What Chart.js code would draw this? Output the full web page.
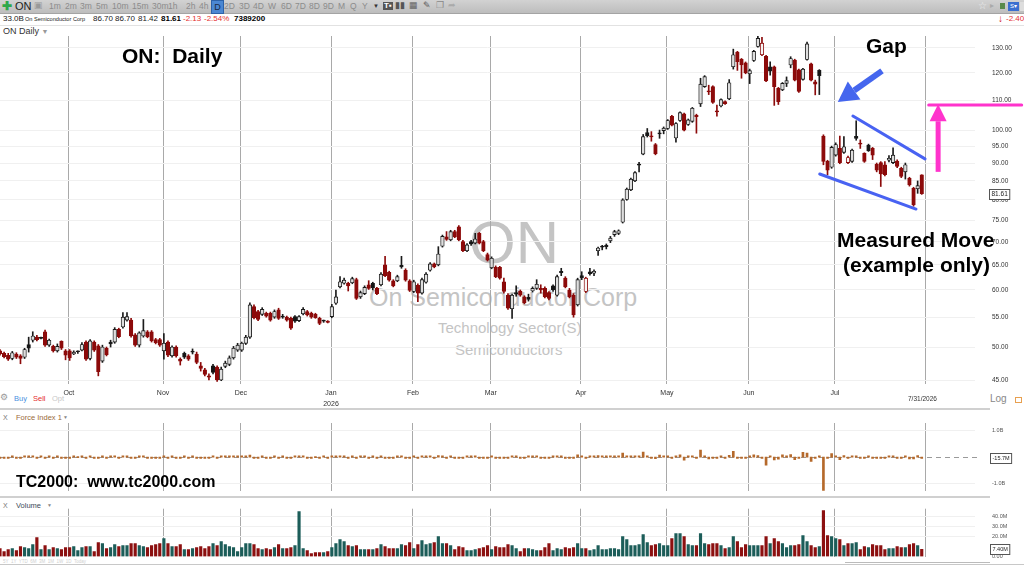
<!DOCTYPE html>
<html>
<head>
<meta charset="utf-8">
<title>ON Daily</title>
<script src="https://cdn.jsdelivr.net/npm/chart.js@4.4.1/dist/chart.umd.min.js"></script>
<style>
  body { margin:0; width:1024px; height:566px; overflow:hidden; background:#fff; position:relative; font-family:"Liberation Sans",Arial,sans-serif; }
  .t { position:absolute; white-space:nowrap; line-height:1; }
  canvas { position:absolute; left:0; z-index:2; }
  #toolbar { position:absolute; left:0; top:0; width:1024px; height:13px; background:linear-gradient(#d2d2d2,#bdbdbd); border-bottom:1px solid #a4a4a4; }
  .tf { position:absolute; top:2px; font-size:8.5px; color:#8c8c8c; line-height:1; }
  .big { font-weight:bold; color:#000; z-index:5; }
  .wm { color:#c4c4c4; z-index:1; }
  .sep { position:absolute; left:0; background:#d0d0d0; }
</style>
</head>
<body>

<div id="toolbar"></div>

<!-- quote line -->
<span class="t" style="left:3px;top:15px;font-size:8px;color:#222">33.0B</span>
<span class="t" style="left:25px;top:16.5px;font-size:5.6px;color:#222">On Semiconductor Corp</span>
<span class="t" style="left:93px;top:15px;font-size:8px;color:#222">86.70</span>
<span class="t" style="left:115px;top:15px;font-size:8px;color:#222">86.70</span>
<span class="t" style="left:138px;top:15px;font-size:8px;color:#222">81.42</span>
<span class="t" style="left:161px;top:15px;font-size:8px;color:#000;font-weight:bold">81.61</span>
<span class="t" style="left:183px;top:15px;font-size:8px;color:#e53030">-2.13</span>
<span class="t" style="left:204px;top:15px;font-size:8px;color:#e53030">-2.54%</span>
<span class="t" style="left:234px;top:15px;font-size:8px;color:#000;font-weight:bold">7389200</span>
<span class="t" style="left:998px;top:14px;font-size:10px;color:#d01010;font-weight:bold">↓</span>
<span class="t" style="left:1006px;top:15px;font-size:8px;color:#e53030">-2.40</span>
<div class="sep" style="top:25px;width:1024px;height:1px;background:#e2e2e2"></div>
<span class="t" style="left:3px;top:27px;font-size:9px;color:#333">ON Daily <span style="color:#999;font-size:7px">▼</span></span>

<!-- watermark -->
<span class="t wm" style="left:469px;top:213px;font-size:60px">ON</span>
<span class="t wm" style="left:369px;top:285px;font-size:25px">On Semiconductor Corp</span>
<span class="t wm" style="left:438px;top:320px;font-size:15px">Technology Sector(S)</span>
<span class="t wm" style="left:455px;top:342px;font-size:15px">Semiconductors</span>

<canvas id="main" width="1024" height="384" style="top:26px"></canvas>
<canvas id="force" width="1024" height="86" style="top:410px"></canvas>
<canvas id="volume" width="1024" height="67" style="top:497px"></canvas>

<!-- bottom of price pane -->
<span class="t" style="left:0px;top:393px;font-size:9px;color:#999">⚙</span>
<span class="t" style="left:14px;top:395px;font-size:7.5px;color:#4a8fe0">Buy</span>
<span class="t" style="left:33px;top:395px;font-size:7.5px;color:#e53030">Sell</span>
<span class="t" style="left:52px;top:395px;font-size:7.5px;color:#c8c8c8">Opt</span>
<span class="t" style="left:908px;top:396px;font-size:6.5px;color:#333;z-index:3">7/31/2026</span>
<span class="t" style="left:990px;top:394px;font-size:10px;color:#888">Log</span>
<div class="sep" style="left:1015px;top:397px;width:5px;height:4px;background:none;border:1px solid #e8a050"></div>
<div class="sep" style="top:408px;width:990px;height:2px"></div>

<!-- force index header -->
<span class="t" style="left:3px;top:414px;font-size:7px;color:#777">X</span>
<span class="t" style="left:16px;top:414px;font-size:7.5px;color:#9a6a3a">Force Index 1</span>
<span class="t" style="left:63px;top:415px;font-size:5px;color:#888">▼</span>
<div class="sep" style="top:496px;width:990px;height:2px"></div>

<!-- volume header -->
<span class="t" style="left:3px;top:502px;font-size:7px;color:#777">X</span>
<span class="t" style="left:16px;top:502px;font-size:7.5px;color:#3d4a5a">Volume</span>
<span class="t" style="left:47px;top:503px;font-size:5px;color:#888">▼</span>
<span class="t" style="left:3px;top:560px;font-size:4.5px;color:#cfcfcf">5Y &nbsp;1Y &nbsp;YTD &nbsp;6M &nbsp;3M &nbsp;1M &nbsp;1W &nbsp;1D &nbsp;Today</span>
<div class="sep" style="top:564px;width:1024px;height:1px;background:#c8c8c8"></div>
<div class="sep" style="left:845px;top:562px;width:145px;height:1px;background:#bbb"></div>

<!-- hand drawn notes -->
<span class="t big" style="left:122px;top:45px;font-size:21px">ON:&nbsp; Daily</span>
<span class="t big" style="left:866px;top:35px;font-size:21px">Gap</span>
<span class="t big" style="left:837px;top:229px;font-size:21px">Measured Move</span>
<span class="t big" style="left:843px;top:254px;font-size:21px">(example only)</span>
<span class="t big" style="left:16px;top:474px;font-size:16px">TC2000:&nbsp; www.tc2000.com</span>

<script>
// Daily bars, Sep 2025 - 7/31/2026 (index 0 = first visible bar)
const opens = [
  49.4,49.0,48.7,48.2,48.9,48.6,48.4,50.4,51.1,51.6,
  51.5,52.5,50.3,50.1,49.4,50.9,49.4,49.4,48.9,49.3,
  49.5,50.8,48.2,50.8,50.2,47.8,49.8,50.8,50.8,52.9,
  53.3,54.5,54.5,52.0,50.3,51.8,52.5,52.5,51.2,51.2,
  49.4,50.8,48.6,50.0,48.1,49.0,48.6,49.3,48.9,47.1,
  46.5,45.6,47.1,46.9,45.0,47.0,47.3,48.3,49.5,49.5,
  50.6,51.6,56.9,56.0,55.5,55.7,55.7,55.0,56.3,55.2,
  55.0,54.8,55.1,54.4,55.6,56.0,55.7,55.5,54.8,54.4,
  54.3,55.1,57.5,60.6,61.3,61.3,61.4,62.0,58.7,59.3,
  61.0,61.3,60.3,61.0,65.0,63.5,61.8,61.8,64.9,63.9,
  61.8,59.7,60.9,59.4,61.5,63.9,65.2,65.0,69.0,71.1,
  70.4,72.3,73.4,70.0,68.0,70.0,69.7,71.9,70.0,67.2,
  64.4,64.5,64.5,61.6,59.0,56.5,59.5,59.8,58.7,58.6,
  59.8,60.3,60.3,60.3,59.5,60.8,59.0,63.7,62.3,60.0,
  59.0,57.2,62.8,59.7,63.6,63.3,68.0,69.0,69.2,70.2,
  71.6,71.9,74.5,80.1,82.6,85.0,89.7,92.6,99.2,98.2,
  95.5,99.0,99.8,100.5,104.5,97.5,103.1,105.3,101.8,102.8,
  104.8,108.7,114.9,113.3,114.9,106.3,108.0,109.5,110.5,122.4,
  128.3,125.4,124.0,119.7,124.9,130.6,127.2,126.6,122.4,122.4,
  114.3,113.7,116.1,123.1,125.1,121.2,117.6,125.3,123.6,116.7,
  121.0,98.1,90.5,88.8,92.3,94.3,93.1,90.1,90.5,98.0,
  95.9,92.8,95.3,94.3,89.6,90.1,89.5,90.8,90.1,90.6,
  88.5,87.5,85.7,83.0,82.9,86.70
];
const highs = [
  49.6,49.2,49.0,49.3,49.1,48.8,49.8,51.6,52.5,51.9,
  51.6,52.8,51.3,50.3,50.5,51.0,49.6,49.6,49.4,49.4,
  50.7,51.0,51.2,51.0,50.4,50.3,50.0,51.1,53.2,53.1,
  55.8,55.8,54.8,52.2,52.5,54.6,52.7,52.7,51.4,51.4,
  52.2,51.0,50.2,50.2,48.3,49.2,48.8,49.7,49.2,47.6,
  46.7,45.9,47.3,47.1,46.9,47.8,48.6,50.1,50.6,50.8,
  51.9,57.6,57.2,56.2,56.7,55.9,55.9,56.3,56.6,55.5,
  55.2,55.0,55.3,55.3,56.7,56.2,55.9,55.7,55.0,54.5,
  54.4,57.3,60.0,62.6,62.3,61.5,62.5,62.3,59.8,60.8,
  61.8,61.5,60.5,63.4,66.8,63.7,62.0,62.9,66.8,64.2,
  62.0,61.9,61.2,62.3,63.4,65.5,65.4,68.9,71.5,72.3,
  72.6,72.6,73.7,70.3,69.6,70.3,71.9,72.1,70.3,67.5,
  66.7,64.8,64.7,62.3,59.3,59.2,60.8,60.0,58.9,59.2,
  60.6,62.0,61.0,60.6,59.7,61.0,62.9,64.3,62.6,60.3,
  59.3,62.3,63.6,62.5,64.3,64.0,68.8,69.2,69.5,71.2,
  72.6,72.7,80.3,83.1,85.8,87.6,90.2,98.6,100.5,99.5,
  95.8,100.0,101.0,103.4,104.8,102.4,106.0,105.6,103.6,107.5,
  105.2,118.0,119.0,115.4,115.2,108.3,110.5,109.8,117.5,129.5,
  128.6,125.7,124.3,121.5,129.0,135.5,134.5,127.0,124.4,122.7,
  114.6,116.4,118.5,126.4,125.4,121.5,121.8,132.5,123.9,117.3,
  121.3,98.5,90.8,95.0,96.0,98.1,97.9,92.0,94.1,103.0,
  96.9,93.0,95.6,94.6,90.0,90.4,90.4,92.2,94.5,90.9,
  88.8,90.0,86.0,83.3,85.0,86.70
];
const lows = [
  48.7,48.3,47.9,48.0,48.2,47.4,48.2,49.2,50.8,51.0,
  51.3,50.1,50.1,49.2,49.2,49.6,48.0,47.9,48.8,49.0,
  49.4,47.9,48.0,49.3,45.6,47.6,48.6,50.0,50.6,51.5,
  53.1,54.3,51.6,50.1,50.0,51.6,51.5,50.8,50.5,50.1,
  48.1,48.5,48.4,48.4,47.2,48.2,47.9,48.9,47.4,46.3,
  45.6,45.0,45.9,44.8,44.9,46.8,47.1,48.1,49.3,49.3,
  50.4,51.4,54.7,54.4,55.3,55.0,54.3,54.8,54.6,54.8,
  54.3,52.9,54.1,54.2,55.4,55.2,54.8,54.8,53.7,54.1,
  54.0,54.9,57.3,60.4,61.1,59.8,61.2,58.2,58.4,59.1,
  60.1,60.0,59.1,60.8,62.6,61.7,60.6,61.6,64.3,61.7,
  59.7,59.5,57.8,59.2,61.3,63.7,64.4,64.8,68.8,70.3,
  70.2,70.9,70.2,67.8,67.8,69.2,69.5,69.5,67.8,65.8,
  64.2,62.4,62.1,59.4,56.4,54.8,58.8,58.8,57.4,57.9,
  59.6,60.1,59.4,58.5,58.1,59.7,58.8,62.8,60.4,58.5,
  55.0,57.0,62.0,59.5,62.9,62.8,67.0,68.2,68.4,69.8,
  71.2,71.6,74.3,79.9,82.4,84.8,87.5,92.4,97.8,96.5,
  92.4,97.4,98.8,100.2,101.3,96.2,102.8,99.7,101.5,102.5,
  99.0,107.8,114.6,112.0,108.9,104.5,107.7,108.5,110.2,121.5,
  121.0,118.0,119.7,116.0,124.5,130.3,126.8,116.7,119.2,108.2,
  108.5,113.4,114.9,122.0,117.0,112.8,117.3,125.0,117.0,111.9,
  112.0,89.5,86.7,88.5,92.0,89.8,92.8,89.8,90.2,96.8,
  94.3,90.2,93.4,91.0,87.5,83.5,86.4,90.3,89.8,88.7,
  85.9,85.5,83.6,78.4,81.7,81.42
];
const closes = [
  48.9,48.5,48.1,49.1,48.4,48.2,49.6,49.8,51.8,51.2,
  51.4,50.3,51.1,49.4,50.1,49.8,48.7,48.3,49.2,49.25,
  50.4,48.1,51.0,49.5,46.2,50.0,48.8,50.5,52.9,51.7,
  55.0,55.1,51.8,50.3,52.3,52.7,51.7,51.0,50.7,50.3,
  50.6,48.7,50.0,48.6,47.8,48.4,48.1,49.2,47.6,46.7,
  45.8,45.4,46.1,45.0,46.6,47.5,48.3,49.8,50.3,50.6,
  51.6,57.2,54.9,54.6,56.4,55.2,54.5,56.0,54.8,55.0,
  54.5,53.1,54.3,55.1,56.4,55.4,55.0,54.9,53.9,54.3,
  54.1,56.9,58.7,61.6,61.9,60.8,62.2,58.4,59.5,60.5,
  60.3,60.4,59.3,63.1,62.8,61.9,60.8,62.6,64.6,61.9,
  59.9,61.6,59.4,62.0,63.1,65.2,64.6,67.3,71.2,70.5,
  72.3,71.1,70.4,68.0,69.3,69.5,70.6,69.7,68.0,66.0,
  66.4,62.6,62.3,59.7,56.6,59.0,59.2,59.0,57.6,58.2,
  60.3,61.1,60.0,58.7,58.4,60.0,62.6,63.4,60.6,58.7,
  55.4,62.0,62.4,62.3,63.2,63.7,68.6,68.8,68.9,70.8,
  72.3,72.5,80.0,82.8,85.5,87.3,89.4,97.9,98.2,97.8,
  92.7,98.8,100.6,103.1,101.6,102.1,105.7,100.0,103.3,107.2,
  104.4,115.8,118.6,113.0,109.2,106.0,110.2,108.8,116.3,127.2,
  124.4,123.1,120.0,120.9,128.6,134.0,132.0,117.0,120.7,114.9,
  109.5,116.1,117.1,125.7,117.3,113.1,121.5,131.7,117.3,115.8,
  119.0,90.5,88.0,94.6,95.5,90.1,94.8,91.6,93.8,97.4,
  95.6,90.5,93.6,92.3,88.0,86.9,86.7,91.4,92.3,89.0,
  86.2,89.5,83.9,78.7,83.74,81.61
];
// volume, millions of shares
const volumes = [
  8,5,7,8,6,10,9,8,12,19,
  7,11,7,9,8,7,9,9,10,6,
  9,10,10,5,14,13,8,9,12,10,
  11,11,13,13,11,10,9,11,12,13,
  18,13,10,10,12,7,7,8,9,10,
  8,10,13,11,15,12,10,9,5,9,
  13,13,12,8,7,8,7,9,12,8,
  8,9,11,45,8,6,3,4,4,4,
  5,9,13,17,15,11,10,11,7,7,
  7,7,8,12,10,8,8,8,12,11,
  14,8,12,16,12,13,14,20,13,13,
  11,7,10,9,6,6,7,8,9,11,
  7,10,9,9,12,11,8,5,8,8,
  7,6,6,9,13,6,8,7,9,8,
  9,13,8,8,6,7,11,7,7,8,
  8,7,20,17,11,11,12,22,14,11,
  12,13,11,11,18,23,23,20,12,11,
  11,23,13,12,13,13,11,8,9,20,
  15,9,12,11,11,11,11,20,13,18,
  15,13,9,11,11,12,21,15,11,9,
  10,46,21,20,18,17,11,13,13,14,
  7,10,9,12,11,11,7,8,8,10,
  9,9,12,13,11,7.39
];
// Force Index (1), billions
const forceIdx = [
  -0.005,-0.002,-0.003,0.008,-0.004,-0.002,0.013,0.002,0.024,-0.011,
  0.001,-0.012,0.006,-0.015,0.006,-0.002,-0.010,-0.004,0.009,0.000,
  0.010,-0.023,0.029,-0.008,-0.046,0.049,-0.010,0.015,0.029,-0.012,
  0.036,0.001,-0.043,-0.020,0.022,0.004,-0.009,-0.008,-0.004,-0.005,
  0.005,-0.025,0.013,-0.014,-0.010,0.004,-0.002,0.009,-0.014,-0.009,
  -0.007,-0.004,0.009,-0.012,0.024,0.011,0.008,0.014,0.003,0.003,
  0.013,0.073,-0.028,-0.002,0.013,-0.010,-0.005,0.014,-0.014,0.002,
  -0.004,-0.013,0.013,0.036,0.010,-0.006,-0.001,0.000,-0.004,0.002,
  -0.001,0.025,0.023,0.049,0.005,-0.012,0.014,-0.042,0.008,0.007,
  -0.001,0.001,-0.009,0.046,-0.003,-0.007,-0.009,0.014,0.024,-0.030,
  -0.028,0.014,-0.026,0.042,0.013,0.027,-0.008,0.054,0.051,-0.009,
  0.020,-0.008,-0.007,-0.022,0.008,0.001,0.008,-0.007,-0.015,-0.022,
  0.003,-0.038,-0.003,-0.023,-0.037,0.026,0.002,-0.001,-0.011,0.005,
  0.015,0.005,-0.007,-0.012,-0.004,0.010,0.021,0.006,-0.025,-0.015,
  -0.030,0.086,0.003,-0.001,0.005,0.004,0.054,0.001,0.001,0.015,
  0.012,0.001,0.150,0.048,0.030,0.020,0.025,0.187,0.004,-0.004,
  -0.061,0.079,0.020,0.028,-0.027,0.012,0.083,-0.114,0.040,0.043,
  -0.031,0.262,0.036,-0.067,-0.049,-0.042,0.046,-0.011,0.068,0.218,
  -0.042,-0.012,-0.037,0.010,0.085,0.059,-0.022,-0.300,0.048,-0.104,
  -0.081,0.086,0.009,0.095,-0.092,-0.050,0.176,0.153,-0.158,-0.014,
  0.032,-1.311,-0.053,0.132,0.016,-0.097,0.055,-0.042,0.029,0.050,
  -0.013,-0.051,0.028,-0.016,-0.047,-0.012,-0.001,0.038,0.007,-0.033,
  -0.025,0.030,-0.067,-0.068,0.055,-0.0157
];

// month boundaries (bar index) and their labels
const monthIdx = [17, 40, 59, 81, 101, 120, 142, 163, 183, 204, 226];
const monthLabels = ['Oct', 'Nov', 'Dec', ['Jan', '2026'], 'Feb', 'Mar', 'Apr', 'May', 'Jun', 'Jul', ''];
const priceTicks = [45, 50, 55, 60, 65, 70, 75, 80, 85, 90, 95, 100, 110, 120, 130];
const forceTicks = [1, -1];
const volumeTicks = [0, 20, 30, 40];

// chart notes, in (bar index, price)
const upperTrend = [[208.2, 104.6], [225.8, 91.2]];
const lowerTrend = [[200.1, 86.9], [223.6, 77.7]];
const gapArrow = [[215.3, 120.8], [204.5, 109.4]];
const targetLine = [[226.7, 108.3], [249.4, 108.3]];
const targetArrow = [[229, 87.5], [229, 108.6]];

// toolbar
const tfList = [['1m',49],['2m',65],['3m',80],['5m',96],['10m',112],['15m',132],['30m',152],['1h',168],['2h',186],['4h',199],
  ['2D',224],['3D',239],['4D',253],['W',268],['6D',281],['7D',295],['8D',309],['9D',323],['M',338],['Q',350],['Y',362]];
const tb = document.getElementById('toolbar');
let html = '<span class="tf" style="left:2px;top:0;font-size:12px;color:#2fa84b;font-weight:bold">✚</span>' +
  '<span class="tf" style="left:15px;top:1px;font-size:11px;color:#222">ON</span>' +
  '<span class="tf" style="left:34px;top:1px;font-size:9px;color:#999">▣</span>' +
  '<span class="tf" style="left:211px;top:0;width:11px;height:12px;background:#4b87d2;border:1px solid #2d62a8;color:#1b2a44;text-align:center;line-height:12px;font-size:9px">D</span>' +
  '<span class="tf" style="left:373px;top:3px;font-size:6px;color:#333">▼</span>' +
  '<span class="tf" style="left:383px;top:2px;font-size:8px;color:#fff;background:#555;padding:0 1px;font-weight:bold">T▪</span>' +
  '<span class="tf" style="left:395px;top:1px;font-size:9px;color:#555">▮▮</span>' +
  '<span class="tf" style="left:409px;top:1px;font-size:9px;color:#666">▦</span>' +
  '<span class="tf" style="left:423px;top:1px;font-size:9px;color:#555">✎</span>' +
  '<span class="tf" style="left:436px;top:1px;font-size:9px;color:#888">❐</span>' +
  '<span class="tf" style="left:448px;top:1px;font-size:9px;color:#aaa">➦</span>' +
  '<span class="tf" style="left:978px;top:1px;font-size:10px;color:#eee">☆</span>' +
  '<span class="tf" style="left:990px;top:2px;font-size:8px;color:#aaa">▸</span>' +
  '<span class="tf" style="left:1000px;top:3px;width:5px;height:6px;background:#5a8a4a"></span>' +
  '<span class="tf" style="left:1008px;top:2px;width:11px;height:9px;background:#3b6fd0;color:#fff;font-size:6px;text-align:center;line-height:9px">S▾</span>' +
  '<span class="tf" style="left:1020px;top:2px;width:4px;height:9px;background:#ddd"></span>';
tfList.forEach(([label, left]) => { html += `<span class="tf" style="left:${left}px">${label}</span>`; });
tb.innerHTML = html;

Chart.defaults.font.family = "'Liberation Sans', Arial, sans-serif";
Chart.defaults.animation = false;

const idx = closes.map((_, i) => i);
const upDay = closes.map((c, i) => i === 0 ? c >= opens[i] : c >= closes[i - 1]);
const hollow = closes.map((c, i) => c >= opens[i]);
const bodyFill = idx.map(i => hollow[i] ? (upDay[i] ? '#dedede' : '#f6f6f6') : (upDay[i] ? '#151515' : '#8c0a0a'));
const edgeColor = idx.map(i => upDay[i] ? '#1b1b1b' : '#8c0a0a');
const volColor = idx.map(i => upDay[i] ? '#1c5d59' : '#8c1010');

const xMin = 0, xMax = 238;
const monthColor = '#a9a9a9';

function xScale(showLabels) {
  return {
    type: 'linear', min: xMin, max: xMax, offset: false,
    afterBuildTicks: s => { s.ticks = monthIdx.map(v => ({ value: v - 0.2 })); },
    ticks: {
      display: showLabels, autoSkip: false, maxRotation: 0, padding: 4, color: '#333',
      font: { size: 7, lineHeight: 1.5 },
      callback: (v, k) => monthLabels[k]
    },
    grid: { color: monthColor, drawTicks: false, offset: false },
    border: { display: false },
    afterFit: s => { s.height = showLabels ? 26 : 0; }
  };
}

// right-hand value axis; labels pushed out with an invisible tick mark
function yScale(extra) {
  return Object.assign({
    position: 'right',
    grid: { color: '#f0f0f0', drawTicks: true, tickLength: 15, tickColor: 'rgba(0,0,0,0)' },
    border: { display: false },
    afterFit: s => { s.width = 49; }
  }, extra);
}

// boxed current value on the right axis
const lastValueBox = {
  id: 'lastValueBox',
  afterDraw(chart, args, opts) {
    if (!opts.text) return;
    const { ctx, chartArea } = chart;
    const y = Math.round(chart.scales.y.getPixelForValue(opts.value));
    ctx.save();
    ctx.font = opts.size + "px 'Liberation Sans', Arial, sans-serif";
    const w = ctx.measureText(opts.text).width + 4;
    const x = chartArea.right + opts.dx;
    ctx.fillStyle = '#fff';
    ctx.fillRect(x, y - 5, w, 10);
    ctx.strokeStyle = '#555';
    ctx.lineWidth = 1;
    ctx.strokeRect(x + 0.5, y - 4.5, w, 10);
    ctx.fillStyle = '#222';
    ctx.textBaseline = 'middle';
    ctx.fillText(opts.text, x + 2.5, y + 0.5);
    ctx.restore();
  }
};

function arrow(ctx, a, b, color, width, head, half) {
  const ang = Math.atan2(b[1] - a[1], b[0] - a[0]);
  const bx = b[0] - head * Math.cos(ang), by = b[1] - head * Math.sin(ang);
  ctx.strokeStyle = color;
  ctx.lineWidth = width;
  ctx.lineCap = 'butt';
  ctx.beginPath(); ctx.moveTo(a[0], a[1]); ctx.lineTo(bx, by); ctx.stroke();
  ctx.fillStyle = color;
  ctx.beginPath();
  ctx.moveTo(b[0], b[1]);
  ctx.lineTo(bx + half * Math.sin(ang), by - half * Math.cos(ang));
  ctx.lineTo(bx - half * Math.sin(ang), by + half * Math.cos(ang));
  ctx.closePath();
  ctx.fill();
}

// trendlines and arrows drawn over the candles
const notes = {
  id: 'notes',
  afterDatasetsDraw(chart) {
    const { ctx, scales: { x, y } } = chart;
    const P = ([i, p]) => [x.getPixelForValue(i), y.getPixelForValue(p)];
    const seg = (pts, color, w) => {
      const [a, b] = pts.map(P);
      ctx.strokeStyle = color; ctx.lineWidth = w; ctx.lineCap = 'round';
      ctx.beginPath(); ctx.moveTo(a[0], a[1]); ctx.lineTo(b[0], b[1]); ctx.stroke();
    };
    ctx.save();
    seg(upperTrend, '#4862f2', 3);
    seg(lowerTrend, '#4862f2', 3);
    arrow(ctx, P(gapArrow[0]), P(gapArrow[1]), '#4566ee', 6, 20, 11);
    seg(targetLine, '#ff33cc', 3);
    arrow(ctx, P(targetArrow[0]), P(targetArrow[1]), '#ff33cc', 5, 17, 8.5);
    ctx.restore();
  }
};

new Chart(document.getElementById('main'), {
  type: 'bar',
  data: {
    datasets: [
      {
        data: idx.map(i => ({ x: i, y: [opens[i], closes[i]] })),
        backgroundColor: bodyFill, borderColor: edgeColor, borderWidth: 0.9,
        borderSkipped: false, barThickness: 3.6, minBarLength: 1, grouped: false, order: 1
      },
      {
        data: idx.map(i => ({ x: i, y: [lows[i], highs[i]] })),
        backgroundColor: edgeColor, barThickness: 1, grouped: false, order: 2
      }
    ]
  },
  options: {
    responsive: false,
    layout: { padding: { top: 10, left: 0, right: 0, bottom: 0 } },
    plugins: {
      legend: { display: false }, tooltip: { enabled: false },
      lastValueBox: { value: closes[closes.length - 1], text: closes[closes.length - 1].toFixed(2), dx: 14, size: 6.5 }
    },
    scales: {
      x: xScale(true),
      y: yScale({
        type: 'logarithmic', min: 44.43, max: 135.05,
        afterBuildTicks: s => { s.ticks = priceTicks.map(v => ({ value: v })); },
        ticks: { padding: 2, color: '#333', font: { size: 6.5 }, callback: v => Number(v).toFixed(2) }
      })
    }
  },
  plugins: [lastValueBox, notes]
});

const zeroLine = {
  id: 'zeroLine',
  beforeDatasetsDraw(chart) {
    const { ctx, chartArea } = chart;
    const y = Math.round(chart.scales.y.getPixelForValue(0)) + 0.5;
    ctx.save();
    ctx.strokeStyle = '#9a9a9a';
    ctx.lineWidth = 1;
    ctx.setLineDash([5, 4]);
    ctx.beginPath(); ctx.moveTo(chartArea.left, y); ctx.lineTo(chartArea.right + 2, y); ctx.stroke();
    ctx.restore();
  }
};

new Chart(document.getElementById('force'), {
  type: 'bar',
  data: {
    datasets: [{
      data: idx.map(i => ({ x: i, y: forceIdx[i] })),
      backgroundColor: '#b5692b', barThickness: 2, minBarLength: 1.2
    }]
  },
  options: {
    responsive: false,
    layout: { padding: { top: 13, left: 0, right: 0, bottom: 5 } },
    plugins: {
      legend: { display: false }, tooltip: { enabled: false },
      lastValueBox: { value: forceIdx[forceIdx.length - 1], text: (forceIdx[forceIdx.length - 1] * 1000).toFixed(1) + 'M', dx: 15, size: 5.5 }
    },
    scales: {
      x: xScale(false),
      y: yScale({
        type: 'linear', min: -1.25, max: 1.27,
        afterBuildTicks: s => { s.ticks = forceTicks.map(v => ({ value: v })); },
        ticks: { padding: 2, color: '#555', font: { size: 5.5 }, callback: v => v.toFixed(1) + 'B' }
      })
    }
  },
  plugins: [zeroLine, lastValueBox]
});

const lastVol = volumes[volumes.length - 1];
new Chart(document.getElementById('volume'), {
  type: 'bar',
  data: {
    datasets: [{
      data: idx.map(i => ({ x: i, y: volumes[i] })),
      backgroundColor: volColor, barThickness: 2.5
    }]
  },
  options: {
    responsive: false,
    layout: { padding: { top: 11.7, left: 0, right: 0, bottom: 7.3 } },
    plugins: {
      legend: { display: false }, tooltip: { enabled: false },
      lastValueBox: { value: lastVol, text: (Math.round(lastVol * 10) / 10).toFixed(2) + 'M', dx: 15, size: 5.5 }
    },
    scales: {
      x: xScale(false),
      y: yScale({
        type: 'linear', min: 0, max: 48,
        afterBuildTicks: s => { s.ticks = volumeTicks.map(v => ({ value: v })); },
        ticks: { padding: 2, color: '#555', font: { size: 5.5 }, callback: v => v === 0 ? '0.00' : v.toFixed(1) + 'M' },
        grid: { color: c => c.tick && c.tick.value === 0 ? 'rgba(0,0,0,0)' : '#f0f0f0', drawTicks: true, tickLength: 15, tickColor: 'rgba(0,0,0,0)' }
      })
    }
  },
  plugins: [lastValueBox]
});
</script>
</body>
</html>
